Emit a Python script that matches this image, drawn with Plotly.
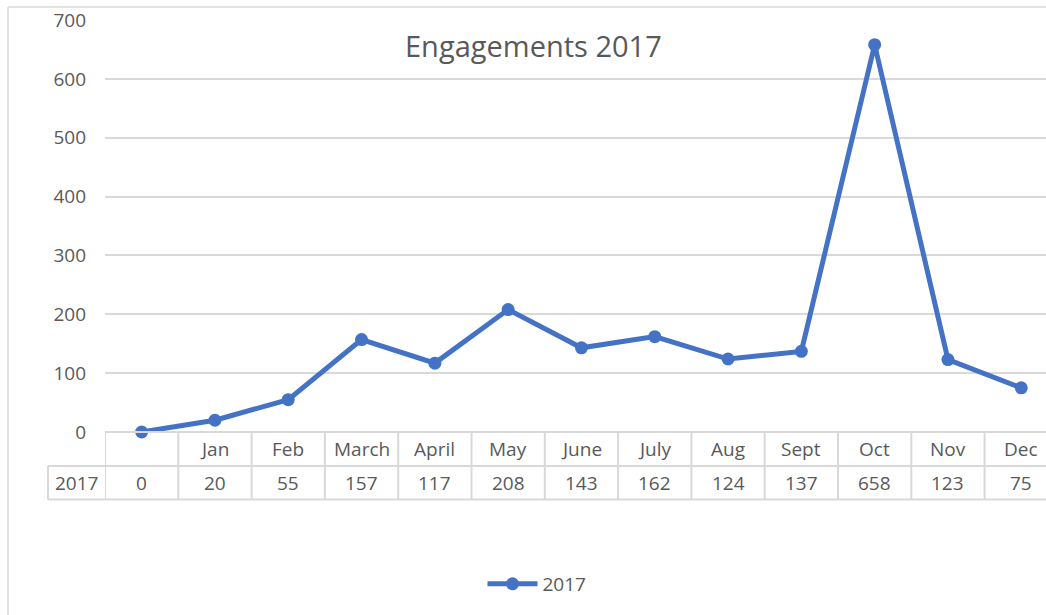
import plotly.graph_objects as go

categories = ["", "Jan", "Feb", "March", "April", "May", "June", "July", "Aug", "Sept", "Oct", "Nov", "Dec"]
values = [0, 20, 55, 157, 117, 208, 143, 162, 124, 137, 658, 123, 75]
series_name = "2017"
title_text = "Engagements 2017"

W, H = 1046, 615
L, R = 105, 1046          # plot area x pixels
T, B = 20, 432            # plot area y pixels
COLW = 73.3               # category width in px
x_max = -0.5 + (R - L) / COLW

GRID = "#d9d9d9"
TXT = "#595959"
FONT = "Open Sans"
BLUE = "#4472C4"
FS = 19

def px_x(p):
    return (p - L) / (R - L)

def px_y(p):
    return (B - p) / (B - T)

xs = list(range(len(categories)))

fig = go.Figure()
fig.add_trace(go.Scatter(
    x=xs, y=values, name=series_name, mode="lines+markers",
    line=dict(color=BLUE, width=5),
    marker=dict(color=BLUE, size=13),
    cliponaxis=False,
))

shapes = []
row1_top, row1_bot, row2_bot = 432, 466, 499.5
shapes.append(dict(type="line", xref="paper", yref="paper", x0=px_x(L), x1=1.0,
                   y0=px_y(row1_top), y1=px_y(row1_top), line=dict(color=GRID, width=2)))
for yy in (row1_bot, row2_bot):
    shapes.append(dict(type="line", xref="paper", yref="paper", x0=px_x(48), x1=1.0,
                       y0=px_y(yy), y1=px_y(yy), line=dict(color=GRID, width=2)))
for k in range(len(categories) + 1):
    shapes.append(dict(type="line", xref="x", yref="paper", x0=k - 0.5, x1=k - 0.5,
                       y0=px_y(row1_top), y1=px_y(row2_bot), line=dict(color=GRID, width=2)))
shapes.append(dict(type="line", xref="paper", yref="paper", x0=px_x(48), x1=px_x(48),
                   y0=px_y(row1_bot), y1=px_y(row2_bot), line=dict(color=GRID, width=2)))
# chart area border (left and top)
shapes.append(dict(type="line", xref="paper", yref="paper", x0=px_x(8), x1=px_x(8),
                   y0=px_y(7), y1=px_y(H + 5), line=dict(color=GRID, width=1.5)))
shapes.append(dict(type="line", xref="paper", yref="paper", x0=px_x(8), x1=px_x(W + 5),
                   y0=px_y(7), y1=px_y(7), line=dict(color=GRID, width=1.5)))

annotations = []
for k, (c, v) in enumerate(zip(categories, values)):
    annotations.append(dict(x=k, y=px_y((row1_top + row1_bot) / 2), xref="x", yref="paper",
                            text=c, showarrow=False, xanchor="center", yanchor="middle",
                            font=dict(family=FONT, size=FS, color=TXT)))
    annotations.append(dict(x=k, y=px_y((row1_bot + row2_bot) / 2), xref="x", yref="paper",
                            text=str(v), showarrow=False, xanchor="center", yanchor="middle",
                            font=dict(family=FONT, size=FS, color=TXT)))
annotations.append(dict(x=px_x(76), y=px_y((row1_bot + row2_bot) / 2), xref="paper", yref="paper",
                        text=series_name, showarrow=False, xanchor="center", yanchor="middle",
                        font=dict(family=FONT, size=FS, color=TXT)))
annotations.append(dict(x=px_x(533), y=px_y(46), xref="paper", yref="paper",
                        text=title_text, showarrow=False, xanchor="center", yanchor="middle",
                        font=dict(family=FONT, size=29, color=TXT)))

fig.update_layout(
    width=W, height=H,
    margin=dict(l=L, r=W - R, t=T, b=H - B, pad=0),
    paper_bgcolor="white", plot_bgcolor="white",
    showlegend=True,
    legend=dict(orientation="h", x=px_x(537), y=px_y(584), xanchor="center", yanchor="middle",
                font=dict(family=FONT, size=FS, color=TXT), itemwidth=50),
    xaxis=dict(range=[-0.5, x_max], showticklabels=False, showgrid=False, zeroline=False,
               showline=False, ticks="", fixedrange=True),
    yaxis=dict(range=[0, 700], dtick=100, showgrid=True, gridcolor=GRID, gridwidth=1.5,
               zeroline=False, showline=False, ticks="", ticklabelstandoff=18,
               tickfont=dict(family=FONT, size=FS, color=TXT)),
    shapes=shapes,
    annotations=annotations,
    font=dict(family=FONT, color=TXT),
)

fig.write_html("out.html", config={"displayModeBar": False},
               post_script="document.body.style.margin='0';document.body.style.overflow='hidden';")
